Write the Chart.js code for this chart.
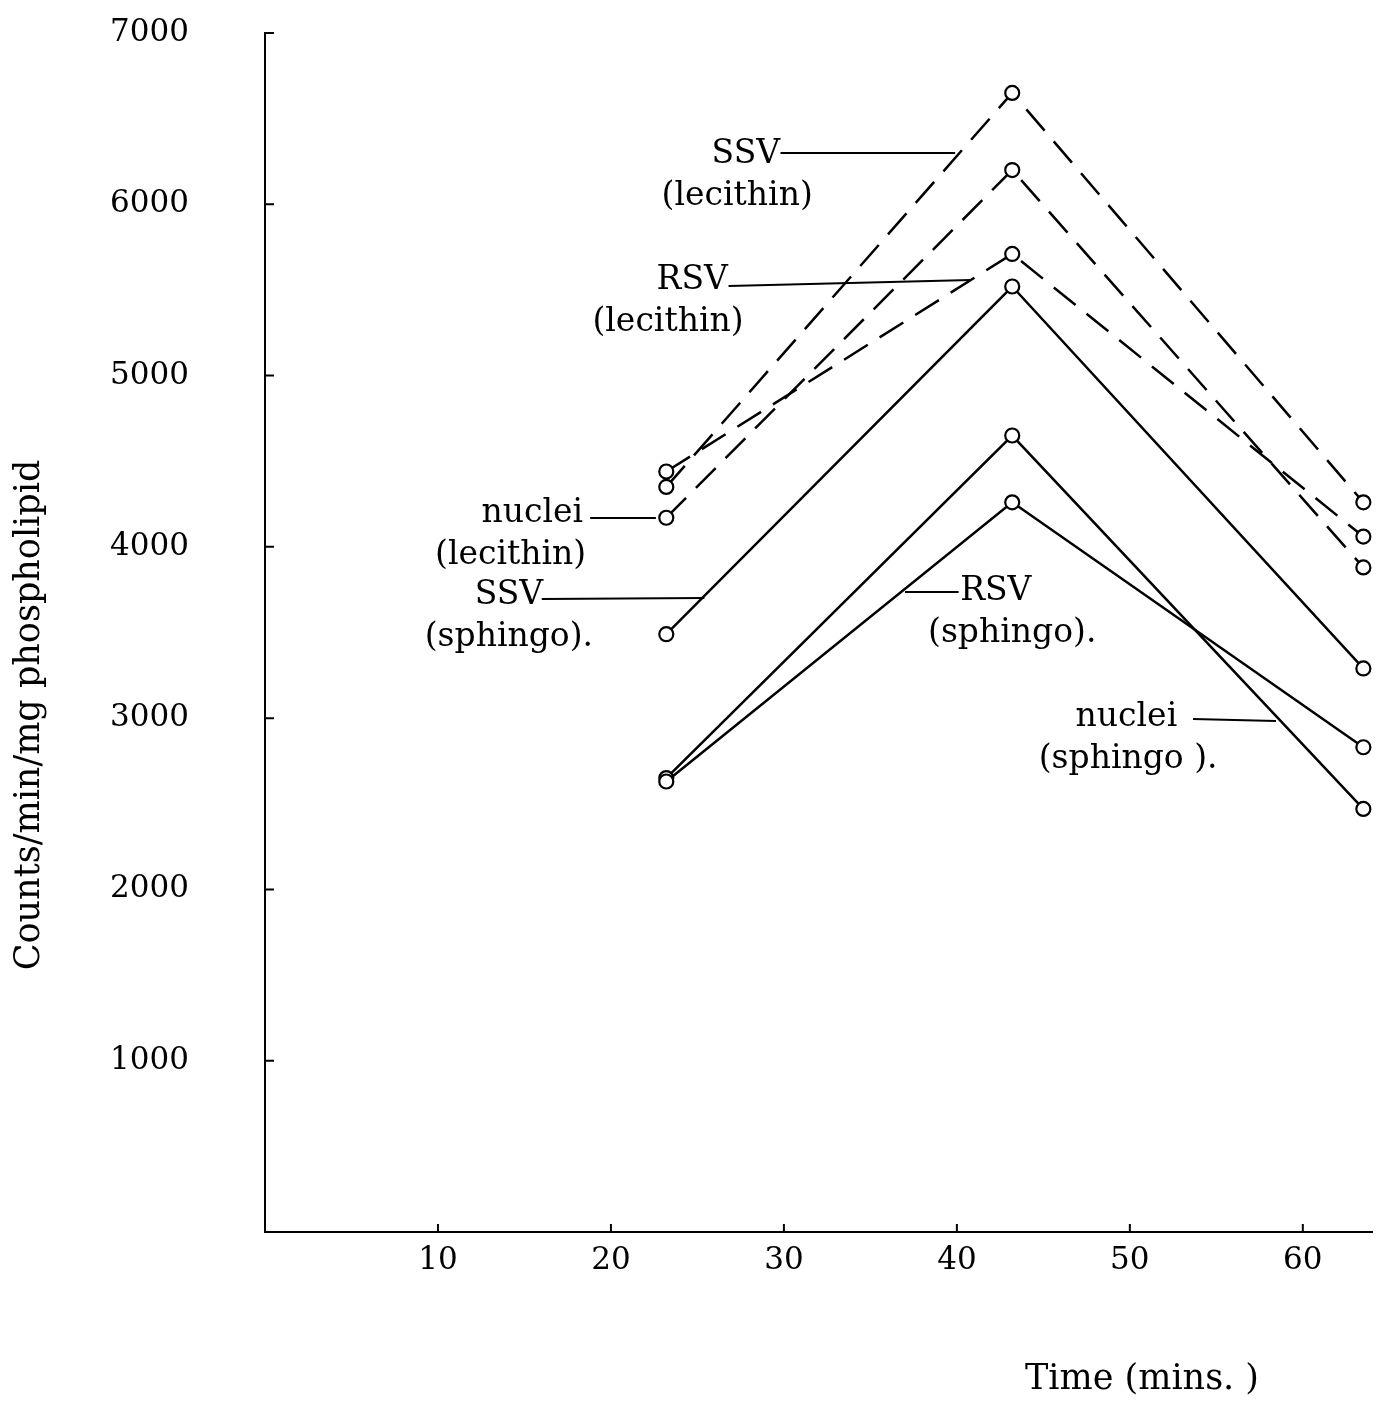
<!DOCTYPE html>
<html>
<head>
<meta charset="utf-8">
<script src="https://cdn.jsdelivr.net/npm/chart.js@4.4.1/dist/chart.umd.min.js"></script>
<style>
  html, body { margin: 0; padding: 0; background: #fff; }
</style>
</head>
<body>
<canvas id="lipidChart" width="1395" height="1401"></canvas>
<script>
// sampling times (mins)
const times = [23.2, 43.2, 63.5];

// lecithin counts (dashed)
const ssvLecithin    = [4350, 6650, 4260];
const rsvLecithin    = [4440, 5710, 4060];
const nucleiLecithin = [4170, 6200, 3880];

// sphingomyelin counts (solid)
const ssvSphingo    = [3490, 5520, 3290];
const rsvSphingo    = [2630, 4260, 2830];
const nucleiSphingo = [2650, 4650, 2470];

const xTicks = [10, 20, 30, 40, 50, 60];
const yTicks = [1000, 2000, 3000, 4000, 5000, 6000, 7000];

// curve labels: text lines, centre x of each line, y of first line, leader line
const notes = [
  { text: ['SSV', '(lecithin)'],   x: [27.8, 27.3], y: 6290, from: [29.8, 6300], to: [39.9, 6300] },
  { text: ['RSV', '(lecithin)'],   x: [24.7, 23.3], y: 5558, from: [26.8, 5523], to: [40.8, 5558] },
  { text: ['nuclei', '(lecithin)'], x: [15.45, 14.2], y: 4198, from: [18.8, 4168], to: [22.6, 4168] },
  { text: ['SSV', '(sphingo).'],   x: [14.1, 14.1], y: 3719, from: [16.0, 3695], to: [25.4, 3701] },
  { text: ['RSV', '(sphingo).'],   x: [42.25, 43.2], y: 3742, from: [40.1, 3736], to: [37.0, 3736] },
  { text: ['nuclei', '(sphingo ).'], x: [49.8, 49.9], y: 3007, from: [53.65, 2995], to: [58.45, 2983] }
];

const FONT = '"DejaVu Serif", "Liberation Serif", serif';

function series(values, dashed) {
  return {
    data: values.map((v, i) => ({ x: times[i], y: v })),
    borderColor: '#000',
    borderWidth: 2.5,
    borderDash: dashed ? [28, 14] : [],
    pointRadius: 7,
    pointBorderWidth: 2.2,
    pointBorderColor: '#000',
    pointBackgroundColor: '#fff',
    tension: 0,
    fill: false
  };
}

// inward tick marks, axis titles and the curve labels
const figureText = {
  id: 'figureText',
  afterDraw(chart) {
    const ctx = chart.ctx;
    const xs = chart.scales.x, ys = chart.scales.y;
    const area = chart.chartArea;
    ctx.save();
    ctx.strokeStyle = '#000';
    ctx.fillStyle = '#000';
    ctx.lineWidth = 2;
    ctx.beginPath();
    yTicks.forEach(v => {
      const py = ys.getPixelForValue(v);
      ctx.moveTo(area.left, py);
      ctx.lineTo(area.left + 9, py);
    });
    xTicks.forEach(v => {
      const px = xs.getPixelForValue(v);
      ctx.moveTo(px, area.bottom);
      ctx.lineTo(px, area.bottom - 8);
    });
    ctx.stroke();

    ctx.font = '33px ' + FONT;
    ctx.textAlign = 'center';
    ctx.textBaseline = 'middle';
    ctx.lineWidth = 2;
    notes.forEach(n => {
      const py = ys.getPixelForValue(n.y);
      n.text.forEach((t, i) => {
        ctx.fillText(t, xs.getPixelForValue(n.x[i]), py + i * 42);
      });
      ctx.beginPath();
      ctx.moveTo(xs.getPixelForValue(n.from[0]), ys.getPixelForValue(n.from[1]));
      ctx.lineTo(xs.getPixelForValue(n.to[0]), ys.getPixelForValue(n.to[1]));
      ctx.stroke();
    });

    // axis titles
    ctx.font = '35px ' + FONT;
    ctx.fillText('Time (mins. )', 1142, 1380);
    ctx.translate(30, 715);
    ctx.rotate(-Math.PI / 2);
    ctx.fillText('Counts/min/mg phospholipid', 0, 0);
    ctx.restore();
  }
};

const ctx = document.getElementById('lipidChart').getContext('2d');
new Chart(ctx, {
  type: 'line',
  data: {
    datasets: [
      series(ssvLecithin, true),
      series(rsvLecithin, true),
      series(nucleiLecithin, true),
      series(ssvSphingo, false),
      series(rsvSphingo, false),
      series(nucleiSphingo, false)
    ]
  },
  options: {
    responsive: false,
    animation: false,
    devicePixelRatio: 1,
    layout: { padding: { top: 33, right: 23, bottom: 0, left: 0 } },
    plugins: { legend: { display: false }, tooltip: { enabled: false } },
    scales: {
      x: {
        type: 'linear',
        min: 0,
        max: 64,
        grid: { display: false, drawTicks: false },
        border: { color: '#000', width: 2 },
        afterBuildTicks: s => { s.ticks = xTicks.map(v => ({ value: v })); },
        afterFit: s => { s.height = 1401 - 1232; s.paddingRight = 0; },
        ticks: {
          padding: 10,
          color: '#000',
          font: { family: FONT, size: 31 },
          callback: v => String(v)
        }
      },
      y: {
        type: 'linear',
        min: 0,
        max: 7000,
        grid: { display: false, drawTicks: false },
        border: { color: '#000', width: 2 },
        afterBuildTicks: s => { s.ticks = yTicks.map(v => ({ value: v })); },
        afterFit: s => { s.width = 265; s.paddingTop = 0; s.paddingBottom = 0; },
        ticks: {
          padding: 76,
          color: '#000',
          font: { family: FONT, size: 31 },
          callback: v => String(v)
        }
      }
    }
  },
  plugins: [figureText]
});
</script>
</body>
</html>
